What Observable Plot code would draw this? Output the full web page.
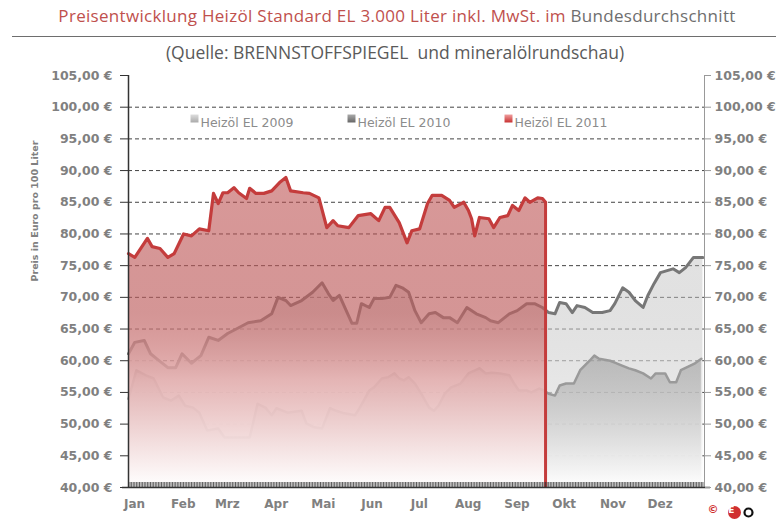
<!DOCTYPE html>
<html><head><meta charset="utf-8">
<script src="https://cdn.jsdelivr.net/npm/d3@7"></script>
<script src="https://cdn.jsdelivr.net/npm/@observablehq/plot@0.6"></script>
<style>
body{margin:0;background:#fff;width:776px;height:522px;overflow:hidden;font-family:"DejaVu Sans",sans-serif;}
#head{position:relative;height:62px;width:776px;}
#title{position:absolute;top:4px;left:9px;width:776px;text-align:center;font-family:"Open Sans",sans-serif;font-size:17px;letter-spacing:0.3px;color:rgb(192,80,77);white-space:nowrap;}
#title span{color:rgb(110,110,110);}
#rule{position:absolute;top:36px;left:12px;width:764px;height:0;border-top:1.5px solid rgb(110,110,110);}
#sub{position:absolute;top:40px;left:7px;width:776px;text-align:center;font-family:"Open Sans",sans-serif;font-size:17.5px;color:rgb(90,90,90);white-space:pre;}
</style></head>
<body>
<div id="head">
  <div id="title">Preisentwicklung Heizöl Standard EL 3.000 Liter inkl. MwSt. im <span>Bundesdurchschnitt</span></div>
  <div id="rule"></div>
  <div id="sub">(Quelle: BRENNSTOFFSPIEGEL  und mineralölrundschau)</div>
</div>
<div id="chart"></div>
<script>
const months = ["Jan","Feb","Mrz","Apr","Mai","Jun","Jul","Aug","Sep","Okt","Nov","Dez"];
const monthStartDays = [0,31,59,90,120,151,181,212,243,273,304,334];
const yTicks = [40,45,50,55,60,65,70,75,80,85,90,95,100,105];
const gridValues = [45,50,55,60,65,70,75,80,85,90,95,100];
const seriesNames = ["Heizöl EL 2009","Heizöl EL 2010","Heizöl EL 2011"];
const yLabel = "Preis in Euro pro 100 Liter";

const days2011 = [0,4,12,15,20,25,29,35,40,45,51,54,57,60,63,67,70,75,77,81,86,91,96,100,103,111,115,121,126,130,133,140,146,154,159,163,166,172,177,180,185,190,193,199,204,207,213,216,218,220,223,229,232,236,241,244,248,252,255,260,263,265];
const price2011 = [76.9,76.3,79.3,78.0,77.7,76.3,76.9,80.0,79.7,80.8,80.5,86.4,84.8,86.5,86.5,87.3,86.5,85.6,87.2,86.4,86.4,86.8,88.1,88.9,86.8,86.5,86.4,85.7,81.0,82.1,81.3,81.0,82.9,83.2,82.1,84.2,84.2,81.8,78.6,80.5,80.8,84.8,86.1,86.1,85.3,84.2,85.0,83.7,82.4,79.7,82.6,82.4,81.0,82.6,82.9,84.5,83.7,85.7,85.0,85.7,85.6,85.0];

const days2010 = [0,4,10,14,18,25,30,34,40,46,51,57,63,70,76,84,91,95,100,103,110,117,123,127,130,134,142,145,148,153,156,161,166,170,174,178,182,186,191,195,200,204,209,215,221,227,230,235,242,247,253,258,263,267,271,274,278,282,285,290,295,301,306,309,314,318,322,327,330,334,338,346,350,354,359,365];
const price2010 = [61.1,62.9,63.2,61.1,60.3,58.9,58.9,61.1,59.6,60.8,63.7,63.2,64.3,65.2,66.0,66.3,67.4,70.0,69.5,68.7,69.5,70.8,72.3,70.6,69.5,70.3,65.9,65.9,69.0,68.4,69.8,69.8,70.0,71.9,71.5,70.8,67.9,66.0,67.4,67.6,66.8,66.8,66.0,68.4,67.4,66.8,66.3,66.0,67.4,67.9,69.0,69.0,68.4,67.6,67.4,69.2,69.0,67.6,68.7,68.4,67.6,67.6,67.9,69.0,71.5,70.8,69.5,68.4,70.3,72.2,73.9,74.5,73.9,74.7,76.3,76.3];

const days2009 = [0,5,11,16,22,27,32,36,41,45,50,57,61,71,77,82,87,91,94,101,110,113,118,123,128,132,137,144,147,153,156,161,165,169,172,175,178,182,186,191,194,197,201,205,211,216,223,227,231,236,242,245,248,253,256,261,264,267,271,274,278,283,287,293,296,299,306,309,314,318,322,327,332,335,341,344,348,351,355,360,364];
const price2009 = [54.0,58.5,57.7,57.2,54.2,53.7,54.5,52.9,52.6,51.8,49.0,49.3,47.9,47.9,47.9,53.2,52.6,51.4,52.5,51.8,52.1,50.1,49.5,49.3,52.5,52.1,51.7,51.4,52.6,55.3,55.8,57.2,57.4,58.0,57.2,56.9,57.4,56.4,54.8,52.6,52.1,52.9,54.8,55.8,56.4,58.0,58.8,58.0,58.1,58.0,57.7,56.4,55.3,55.3,55.0,55.6,55.3,54.8,54.5,56.1,56.4,56.4,58.5,60.0,60.8,60.3,60.0,59.7,59.2,58.8,58.5,58.0,57.2,58.0,58.0,56.6,56.6,58.5,59.0,59.6,60.3];

const toRows = (days, prices) => days.map((d, i) => ({day: d, price: prices[i]}));
const s2011 = toRows(days2011, price2011);
const s2010 = toRows(days2010, price2010);
const s2009 = toRows(days2009, price2009);
const dayTicks = d3.range(0, 366);

const euro = d => d.toFixed(2).replace(".", ",") + " €";
const monthName = d => months[monthStartDays.indexOf(d)];
const legendColors = ["url(#lg2009)", "url(#lg2010)", "url(#lg2011)"];
const txtGray = "rgb(128,128,128)";

const chart = Plot.plot({
  width: 776,
  height: 460,
  marginTop: 13,
  marginBottom: 35,
  marginLeft: 128,
  marginRight: 72,
  style: {fontFamily: "DejaVu Sans", fontSize: "12px", background: "#fff"},
  x: {domain: [0, 366], label: null},
  y: {domain: [40, 105], label: null},
  marks: [
    Plot.ruleY(gridValues, {stroke: "#444", strokeDasharray: "4,3", strokeWidth: 1}),
    Plot.areaY(s2010, {x: "day", y1: 40, y2: "price", fill: "url(#g2010)"}),
    Plot.areaY(s2009, {x: "day", y1: 40, y2: "price", fill: "url(#g2009)"}),
    Plot.lineY(s2010, {x: "day", y: "price", stroke: "#777", strokeWidth: 3}),
    Plot.lineY(s2009, {x: "day", y: "price", stroke: "#9a9a9a", strokeWidth: 2.5}),
    Plot.areaY(s2011, {x: "day", y1: 40, y2: "price", fill: "url(#g2011)"}),
    Plot.lineY(s2011, {x: "day", y: "price", stroke: "#c43c3c", strokeWidth: 3.2}),
    Plot.ruleX(s2011.slice(-1), {x: "day", y1: 40, y2: "price", stroke: "#c43c3c", strokeWidth: 3}),
    Plot.ruleX(dayTicks, {x: d => d, y1: 40, y2: 40, insetTop: -5, stroke: "#333", strokeWidth: 0.8}),
    Plot.ruleX([0], {stroke: "#333", strokeWidth: 1.5}),
    Plot.ruleX([366], {stroke: "#999", strokeWidth: 1}),
    Plot.ruleY([40], {stroke: "#333", strokeWidth: 1.5, insetLeft: -6, insetRight: -6}),
    Plot.axisY({anchor: "left", label: null, ticks: yTicks, tickFormat: euro, tickSize: 8, tickPadding: 8, stroke: "#333", fill: txtGray, fontWeight: "bold", fontSize: 12.5}),
    Plot.axisY({anchor: "right", label: null, ticks: yTicks, tickFormat: euro, tickSize: 6, tickPadding: 4, stroke: "#999", fill: txtGray, fontWeight: "bold", fontSize: 12.5}),
    Plot.axisX({label: null, ticks: monthStartDays, tickFormat: monthName, tickSize: 0, tickPadding: 12, dx: 6, fill: txtGray, fontWeight: "bold", fontSize: 12}),
    Plot.text([yLabel], {frameAnchor: "left", dx: -94, rotate: -90, text: d => d, fill: txtGray, fontWeight: "bold", fontSize: 9.5}),
    ...seriesNames.map((name, i) => Plot.dot([name], {frameAnchor: "top-left", dx: 66 + i * 157, dy: 43, symbol: "square", r: 4.5, fill: legendColors[i]})),
    ...seriesNames.map((name, i) => Plot.text([name], {frameAnchor: "top-left", dx: 72 + i * 157, dy: 43, text: d => d, textAnchor: "start", fill: "rgb(140,140,140)", fontSize: 12.5})),
    Plot.text(["©"], {frameAnchor: "bottom-right", dx: 14, dy: 25, text: d => d, fill: "#d03030", fontSize: 11, fontWeight: "bold"}),
    Plot.dot(["logo"], {frameAnchor: "bottom-right", dx: 30, dy: 25, r: 6.5, fill: "#d03030"}),
    Plot.text(["E"], {frameAnchor: "bottom-right", dx: 30, dy: 25, text: d => d, fill: "#fff", fontSize: 9, fontWeight: "bold"}),
    Plot.dot(["logo"], {frameAnchor: "bottom-right", dx: 44, dy: 25, r: 4, fill: "none", stroke: "#111", strokeWidth: 2.2})
  ]
});
document.getElementById("chart").appendChild(chart);

const yS = chart.scale("y");
const defs = d3.select(chart).insert("defs", ":first-child");
function grad(id, v0, v1, stops, units) {
  const g = defs.append("linearGradient").attr("id", id).attr("x1", 0).attr("x2", 0);
  if (units) g.attr("gradientUnits", "userSpaceOnUse").attr("y1", yS.apply(v0)).attr("y2", yS.apply(v1));
  else g.attr("y1", 0).attr("y2", 1);
  stops.forEach(([o, c, a]) => g.append("stop").attr("offset", o).attr("stop-color", c).attr("stop-opacity", a));
}
grad("g2011", 90, 40, [[0, "rgb(185,70,70)", 0.55], [0.45, "rgb(190,95,95)", 0.66], [0.66, "rgb(228,175,175)", 0.9], [1, "#fff", 0.98]], true);
grad("g2010", 77, 40, [[0, "rgb(180,180,180)", 0.38], [0.6, "rgb(222,222,222)", 0.7], [1, "#fff", 1]], true);
grad("g2009", 61, 40, [[0, "rgb(150,150,150)", 0.55], [1, "#fff", 0.9]], true);
grad("lg2009", 0, 0, [[0, "#ddd", 1], [1, "#aaa", 1]], false);
grad("lg2010", 0, 0, [[0, "#aaa", 1], [1, "#666", 1]], false);
grad("lg2011", 0, 0, [[0, "#f0a0a0", 1], [1, "#c83030", 1]], false);
</script>
</body></html>
